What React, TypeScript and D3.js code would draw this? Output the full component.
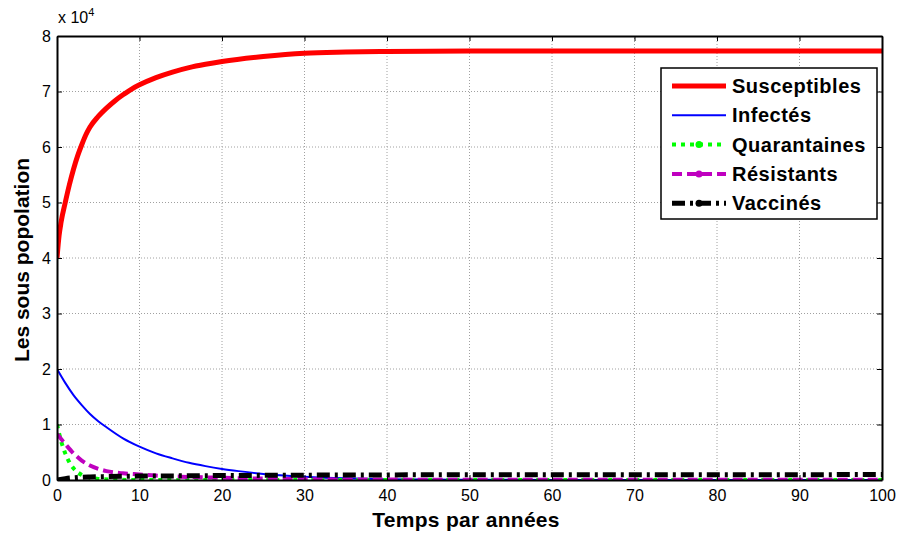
import { useEffect, useRef } from 'react'
import * as d3 from 'd3'

// time points (years) and sub-populations
const susT = [0, 0.25, 0.5, 1, 1.5, 2, 2.5, 3, 3.5, 4, 5, 6, 7, 8, 9, 10, 12, 14, 16, 18, 20, 25, 30, 35, 40, 50, 60, 80, 100]
const susV = [40000, 44000, 46500, 50000, 53200, 56000, 58400, 60400, 62200, 63600, 65500, 67000, 68300, 69400, 70400, 71200, 72500, 73500, 74300, 74900, 75400, 76300, 76900, 77100, 77200, 77300, 77300, 77300, 77300]

const infT = [0, 1, 2, 3, 4, 5, 6, 8, 10, 12, 14, 16, 18, 20, 22, 25, 30, 35, 40, 50, 60, 100]
const infV = [20000, 17500, 15300, 13500, 11900, 10600, 9500, 7500, 6000, 4800, 3900, 3100, 2500, 2000, 1600, 1100, 600, 300, 150, 50, 20, 0]

const quaT = [0, 0.5, 1, 1.5, 2, 3, 4, 5, 7, 10, 100]
const quaV = [10000, 7000, 4800, 3200, 2100, 900, 400, 200, 50, 0, 0]

const resT = [0, 1, 2, 3, 4, 5, 6, 8, 10, 12, 15, 20, 25, 30, 40, 50, 100]
const resV = [8300, 6500, 4800, 3500, 2600, 2000, 1600, 1200, 1000, 800, 600, 400, 250, 150, 80, 50, 30]

const vacT = [0, 1, 2, 4, 6, 10, 15, 20, 30, 40, 60, 100]
const vacV = [0, 250, 400, 550, 620, 700, 750, 800, 870, 920, 950, 970]

const xTicks = [0, 10, 20, 30, 40, 50, 60, 70, 80, 90, 100]
const yTicks = [0, 10000, 20000, 30000, 40000, 50000, 60000, 70000, 80000]

const series = [
  { name: 'Susceptibles', t: susT, v: susV, color: '#ff0000', width: 5, dash: '', marker: false },
  { name: 'Infectés', t: infT, v: infV, color: '#0000ff', width: 2, dash: '', marker: false },
  { name: 'Quarantaines', t: quaT, v: quaV, color: '#00ff00', width: 4, dash: '4,5', marker: true },
  { name: 'Résistants', t: resT, v: resV, color: '#bf00bf', width: 4, dash: '10,5', marker: true },
  { name: 'Vaccinés', t: vacT, v: vacV, color: '#000000', width: 5, dash: '13,5,3,5', marker: true },
]

const W = 900
const H = 536
const margin = { top: 36, right: 18, bottom: 56, left: 57 }

export default function App() {
  const svgRef = useRef<SVGSVGElement>(null)

  useEffect(() => {
    if (!svgRef.current) return
    const svg = d3.select(svgRef.current)
    svg.selectAll('*').remove()

    const x = d3.scaleLinear().domain([0, 100]).range([margin.left, W - margin.right])
    const y = d3.scaleLinear().domain([0, 80000]).range([H - margin.bottom, margin.top])
    const font = 'Arial, "Liberation Sans", sans-serif'

    svg.append('rect').attr('width', W).attr('height', H).attr('fill', '#fff')

    // grid
    const grid = svg.append('g').attr('stroke', '#a0a0a0').attr('stroke-width', 1).attr('stroke-dasharray', '1,2')
    xTicks.slice(1, -1).forEach(t => {
      grid.append('line').attr('x1', x(t)).attr('x2', x(t)).attr('y1', y(0)).attr('y2', y(80000))
    })
    yTicks.slice(1, -1).forEach(t => {
      grid.append('line').attr('x1', x(0)).attr('x2', x(100)).attr('y1', y(t)).attr('y2', y(t))
    })

    svg.append('defs').append('clipPath').attr('id', 'plot-clip')
      .append('rect')
      .attr('x', x(0)).attr('y', y(80000))
      .attr('width', x(100) - x(0)).attr('height', y(0) - y(80000))

    const line = d3.line<[number, number]>()
      .x(d => x(d[0]))
      .y(d => y(d[1]))
      .curve(d3.curveMonotoneX)

    const lines = svg.append('g').attr('clip-path', 'url(#plot-clip)')
    series.forEach(s => {
      const pts = s.t.map((t, i) => [t, s.v[i]] as [number, number])
      lines.append('path')
        .attr('d', line(pts))
        .attr('fill', 'none')
        .attr('stroke', s.color)
        .attr('stroke-width', s.width)
        .attr('stroke-dasharray', s.dash || null)
    })

    // axes box with inward ticks
    const ax = svg.append('g')
    ax.append('g').attr('transform', `translate(0,${y(0)})`)
      .call(d3.axisBottom(x).tickValues(xTicks).tickSizeInner(-5).tickSizeOuter(0).tickPadding(10))
    ax.append('g').attr('transform', `translate(0,${y(80000)})`)
      .call(d3.axisTop(x).tickValues(xTicks).tickSizeInner(-5).tickSizeOuter(0).tickFormat(() => ''))
    ax.append('g').attr('transform', `translate(${x(0)},0)`)
      .call(d3.axisLeft(y).tickValues(yTicks).tickSizeInner(-5).tickSizeOuter(0).tickPadding(6).tickFormat(d => String(+d / 10000)))
    ax.append('g').attr('transform', `translate(${x(100)},0)`)
      .call(d3.axisRight(y).tickValues(yTicks).tickSizeInner(-5).tickSizeOuter(0).tickFormat(() => ''))
    ax.selectAll('.domain').attr('stroke', '#000').attr('stroke-width', 2)
    ax.selectAll('.tick line').attr('stroke', '#000')
    ax.selectAll('text').attr('font-family', font).attr('font-size', 16).attr('fill', '#000')

    // exponent label
    const ex = svg.append('text').attr('x', x(0) + 1).attr('y', 23)
      .attr('font-family', font).attr('font-size', 16).attr('fill', '#000')
    ex.append('tspan').text('x 10')
    ex.append('tspan').attr('dy', -7).attr('font-size', 11).text('4')

    svg.append('text')
      .attr('x', 466).attr('y', 527)
      .attr('text-anchor', 'middle')
      .attr('font-family', font).attr('font-size', 21).attr('font-weight', 'bold')
      .attr('letter-spacing', 0.3)
      .text('Temps par années')

    svg.append('text')
      .attr('transform', `translate(29,260) rotate(-90)`)
      .attr('text-anchor', 'middle')
      .attr('font-family', font).attr('font-size', 21).attr('font-weight', 'bold')
      .text('Les sous popolation')

    // legend
    const lg = svg.append('g').attr('transform', 'translate(661,68)')
    lg.append('rect').attr('width', 216).attr('height', 151)
      .attr('fill', '#fff').attr('stroke', '#000').attr('stroke-width', 1.5)
    series.forEach((s, i) => {
      const cy = 18 + i * 29.3
      lg.append('line').attr('x1', 11).attr('x2', 65).attr('y1', cy).attr('y2', cy)
        .attr('stroke', s.color).attr('stroke-width', s.width)
        .attr('stroke-dasharray', s.dash || null)
      if (s.marker) {
        lg.append('circle').attr('cx', 38).attr('cy', cy).attr('r', 3.5).attr('fill', s.color)
      }
      lg.append('text').attr('x', 71).attr('y', cy + 7)
        .attr('font-family', font).attr('font-size', 20).attr('font-weight', 'bold')
        .attr('letter-spacing', 0.5)
        .text(s.name)
    })
  }, [])

  return (
    <svg
      ref={svgRef}
      width={W}
      height={H}
      style={{ position: 'absolute', left: 0, top: 0 }}
    />
  )
}
